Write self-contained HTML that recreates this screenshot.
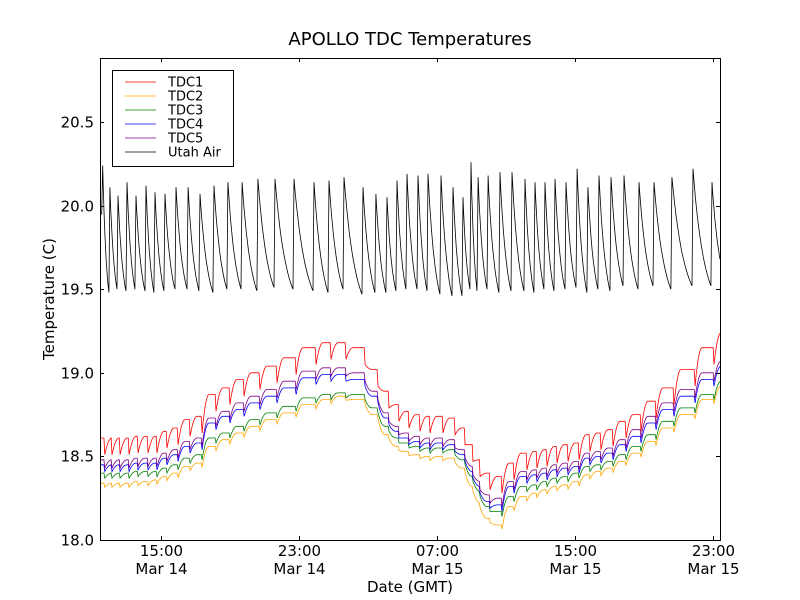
<!DOCTYPE html>
<html><head><meta charset="utf-8"><style>
body{margin:0;background:#fff}
svg{display:block;font-family:"DejaVu Sans","Liberation Sans",sans-serif}
</style></head><body>
<svg id="chart" width="800" height="600" viewBox="0 0 800 600">
<rect x="0" y="0" width="800" height="600" fill="#fff"/>
<text x="410" y="45" text-anchor="middle" font-size="18">APOLLO TDC Temperatures</text>
<g id="series"></g>
<rect x="100.5" y="58.5" width="620" height="482" fill="none" stroke="#000"/>
<g id="axes"></g>
<text x="0" y="0" transform="translate(54,299) rotate(-90)" text-anchor="middle" font-size="15">Temperature (C)</text>
<text x="410" y="592" text-anchor="middle" font-size="15">Date (GMT)</text>
<g id="legend"></g>
</svg>
<script>
// hours since Mar 14 00:00
const cycleTimes=[11.62,12.04,12.51,13.03,13.55,14.13,14.65,15.23,15.87,16.57,17.26,18.07,18.88,19.70,20.62,21.61,22.71,23.87,24.74,25.61,26.71,27.46,28.10,28.68,29.26,29.90,30.48,31.23,31.93,32.51,32.97,33.38,33.96,34.65,35.35,36.10,36.68,37.26,37.84,38.48,39.12,39.75,40.39,41.09,41.84,42.71,43.58,44.62,45.84,46.94];
const airPeaks=[20.24,20.11,20.06,20.14,20.06,20.12,20.08,20.07,20.11,20.11,20.07,20.12,20.14,20.14,20.16,20.16,20.16,20.14,20.15,20.17,20.11,20.07,20.05,20.15,20.19,20.18,20.19,20.18,20.11,20.05,20.26,20.17,20.18,20.20,20.20,20.16,20.14,20.14,20.16,20.14,20.22,20.11,20.18,20.17,20.18,20.14,20.14,20.17,20.22,20.14];
const airTroughs=[19.95,19.48,19.50,19.49,19.50,19.49,19.48,19.49,19.50,19.50,19.49,19.48,19.50,19.50,19.49,19.51,19.50,19.49,19.48,19.50,19.47,19.48,19.48,19.49,19.50,19.50,19.49,19.47,19.46,19.46,19.50,19.49,19.50,19.48,19.49,19.49,19.48,19.50,19.49,19.50,19.51,19.48,19.50,19.49,19.52,19.50,19.52,19.50,19.52,19.52];
const airEnd=19.68;
const tdc1=[18.61,18.61,18.61,18.62,18.62,18.62,18.65,18.67,18.72,18.74,18.87,18.91,18.96,19.00,19.04,19.09,19.15,19.18,19.18,19.15,19.02,18.89,18.81,18.77,18.75,18.74,18.74,18.73,18.67,18.57,18.48,18.40,18.38,18.46,18.52,18.53,18.54,18.56,18.57,18.58,18.63,18.64,18.66,18.71,18.75,18.83,18.91,19.02,19.15,19.24];
const tdc2=[18.34,18.34,18.34,18.35,18.35,18.36,18.38,18.40,18.44,18.46,18.56,18.60,18.64,18.68,18.72,18.76,18.81,18.84,18.86,18.84,18.75,18.63,18.56,18.53,18.51,18.50,18.50,18.49,18.43,18.32,18.22,18.13,18.09,18.20,18.26,18.28,18.30,18.32,18.33,18.35,18.39,18.41,18.43,18.47,18.52,18.59,18.67,18.75,18.84,18.92];
const tdc3=[18.40,18.40,18.40,18.41,18.41,18.41,18.43,18.45,18.49,18.51,18.61,18.64,18.68,18.72,18.76,18.80,18.85,18.87,18.88,18.87,18.79,18.68,18.61,18.58,18.56,18.55,18.55,18.54,18.48,18.38,18.29,18.20,18.17,18.26,18.32,18.33,18.35,18.37,18.38,18.40,18.44,18.45,18.47,18.51,18.56,18.63,18.71,18.79,18.87,18.95];
const tdc4=[18.45,18.45,18.45,18.46,18.46,18.46,18.49,18.51,18.56,18.58,18.70,18.74,18.78,18.82,18.86,18.91,18.97,18.99,18.99,18.96,18.86,18.73,18.65,18.61,18.59,18.58,18.58,18.57,18.51,18.41,18.32,18.23,18.21,18.32,18.38,18.39,18.40,18.42,18.43,18.44,18.49,18.50,18.52,18.57,18.62,18.70,18.78,18.86,18.96,19.04];
const tdc5=[18.48,18.48,18.48,18.49,18.49,18.49,18.52,18.54,18.59,18.61,18.73,18.77,18.82,18.86,18.90,18.95,19.01,19.03,19.03,19.00,18.89,18.76,18.68,18.64,18.62,18.61,18.61,18.60,18.54,18.44,18.35,18.27,18.25,18.35,18.41,18.42,18.43,18.45,18.46,18.47,18.52,18.53,18.55,18.60,18.66,18.74,18.82,18.90,19.00,19.07];
const tdcDips=[0.10,0.025,0.03,0.04,0.05];
const seriesNames=["TDC1","TDC2","TDC3","TDC4","TDC5","Utah Air"];
const yTicks=[18.0,18.5,19.0,19.5,20.0,20.5];
const yTickLabels=["18.0","18.5","19.0","19.5","20.0","20.5"];
const xTicks=[15,23,31,39,47];
const xTickLabels1=["15:00","23:00","07:00","15:00","23:00"];
const xTickLabels2=["Mar 14","Mar 14","Mar 15","Mar 15","Mar 15"];

const colors=["#ff0000","#ffa500","#008000","#0000ff","#800080","#000000"];
const X0=100,X1=720,Y0=540,Y1=58,TMIN=11.464,TMAX=47.406,VMIN=18,VMAX=20.883;
const xs=t=>X0+(t-TMIN)/(TMAX-TMIN)*(X1-X0);
const ys=v=>Y0-(v-VMIN)/(VMAX-VMIN)*(Y0-Y1);
const NS="http://www.w3.org/2000/svg";
function mk(tag,attrs,parent){const e=document.createElementNS(NS,tag);for(const k in attrs)e.setAttribute(k,attrs[k]);parent.appendChild(e);return e;}
const sg=document.getElementById('series');
const clip=mk('clipPath',{id:'pc'},sg);mk('rect',{x:X0,y:Y1,width:X1-X0,height:Y0-Y1},clip);

// TDC lines
const tdcs=[tdc1,tdc2,tdc3,tdc4,tdc5];
tdcs.forEach((arr,si)=>{
  const dip=tdcDips[si];let pts=[[TMIN,arr[0]]];
  for(let i=0;i<cycleTimes.length;i++){
    const t=cycleTimes[i]+0.12;const prev=i>0?arr[i-1]:arr[0];
    pts.push([t-0.05,prev]);pts.push([t,prev-dip]);
    const n=6;
    for(let j=1;j<=n;j++){const s=j/n;const f=1-Math.pow(1-s,2);pts.push([t+0.4*s,prev-dip+(arr[i]-prev+dip)*f]);}
  }
  pts.push([TMAX,arr[arr.length-1]]);
  const d=pts.map((p,j)=>(j?'L':'M')+xs(p[0]).toFixed(1)+','+ys(p[1]).toFixed(1)).join('');
  const p=mk('path',{d:d,fill:'none',stroke:colors[si],'stroke-width':0.8,'clip-path':'url(#pc)'},sg);
  
  
});
// Air line
(function(){
  let pts=[[TMIN,airTroughs[0]]];
  const k=1.6,den=1-Math.exp(-k);
  for(let i=0;i<cycleTimes.length;i++){
    const tp=cycleTimes[i],pv=airPeaks[i];
    pts.push([tp-0.06,airTroughs[i]]);pts.push([tp,pv]);
    const last=i===cycleTimes.length-1;
    const tEnd=last?TMAX:cycleTimes[i+1]-0.06;const vEnd=last?airEnd:airTroughs[i+1];
    const n=14;
    for(let j=1;j<=n;j++){const s=j/n;const f=last?(Math.exp(-k*s*0.6)-Math.exp(-k*0.6))/(1-Math.exp(-k*0.6)):(Math.exp(-k*s)-Math.exp(-k))/den;
      pts.push([tp+(tEnd-tp)*s,vEnd+(pv-vEnd)*f]);}
  }
  const d=pts.map((p,j)=>(j?'L':'M')+xs(p[0]).toFixed(1)+','+ys(p[1]).toFixed(1)).join('');
  const p=mk('path',{d:d,fill:'none',stroke:'#000','stroke-width':0.8,'clip-path':'url(#pc)'},sg);
  
  
})();

// axes
const ax=document.getElementById('axes');
yTicks.forEach((v,i)=>{
  const y=Math.round(ys(v))+0.5;
  mk('line',{x1:X0,x2:X0+4,y1:y,y2:y,stroke:'#000'},ax);
  mk('line',{x1:X1-4,x2:X1,y1:y,y2:y,stroke:'#000'},ax);
  const t=mk('text',{x:X0-6,y:y+5,'text-anchor':'end','font-size':15},ax);t.textContent=yTickLabels[i];
  
  
});
xTicks.forEach((tv,i)=>{
  const x=Math.round(xs(tv))+0.5;
  mk('line',{x1:x,x2:x,y1:Y0,y2:Y0-4,stroke:'#000'},ax);
  mk('line',{x1:x,x2:x,y1:Y1,y2:Y1+4,stroke:'#000'},ax);
  const t=mk('text',{x:x,y:556,'text-anchor':'middle','font-size':15},ax);t.textContent=xTickLabels1[i];
  
  
  const t2=mk('text',{x:x,y:574,'text-anchor':'middle','font-size':15},ax);t2.textContent=xTickLabels2[i];
  
  
});
// legend
const lg=document.getElementById('legend');
mk('rect',{x:112.5,y:70.5,width:121,height:96,fill:'#fff',stroke:'#000'},lg);
seriesNames.forEach((n,i)=>{
  const y=82+i*14;
  const l=mk('line',{x1:125,x2:156,y1:y,y2:y,stroke:colors[i],'stroke-width':0.8},lg);
  
  
  const t=mk('text',{x:168,y:y+4.5,'font-size':13},lg);t.textContent=n;
  
  
});
</script>
</body></html>
